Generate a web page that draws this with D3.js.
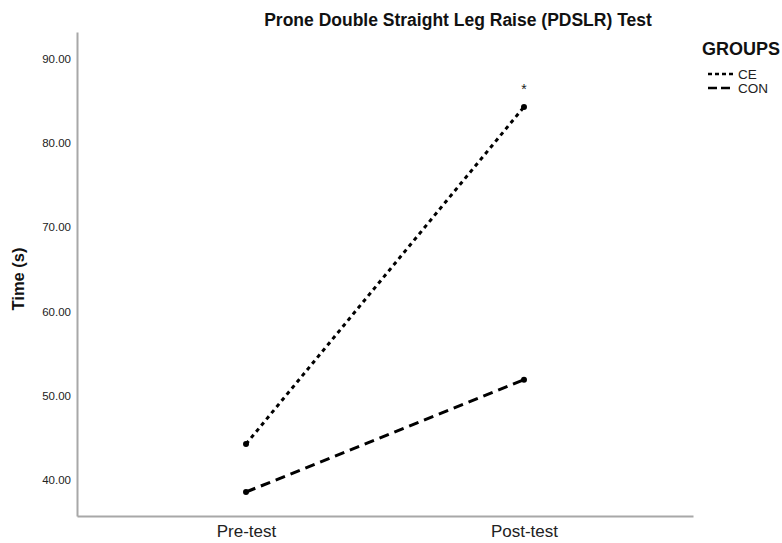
<!DOCTYPE html>
<html><head><meta charset="utf-8">
<script src="https://cdn.jsdelivr.net/npm/d3@7"></script>
<style>body{margin:0;background:#fff;} svg{display:block;font-family:"Liberation Sans",Arial,sans-serif;}</style>
</head><body>
<svg id="c" width="782" height="543"></svg>
<script>
const categories = ["Pre-test", "Post-test"];
const groups = ["CE", "CON"];
const ceValues = [44.25, 84.3];
const conValues = [38.55, 51.9];
const yTicks = [40, 50, 60, 70, 80, 90];

const FONT = "Liberation Sans, Arial, sans-serif";
const svg = d3.select("#c");
const x = d3.scalePoint().domain(categories).range([77, 693]).padding(0.608);
const y = d3.scaleLinear().domain([35.7, 93.2]).range([516, 32]);

// axes
const yAxis = d3.axisLeft(y).tickValues(yTicks).tickSize(0).tickPadding(6).tickFormat(d3.format(".2f"));
const gy = svg.append("g").attr("transform", "translate(77,0)").call(yAxis);
gy.attr("font-family", FONT);
gy.select(".domain").attr("stroke", "#a8a8a8").attr("stroke-width", 2);
gy.selectAll("text").attr("font-size", 11.5).attr("fill", "#222");

const xAxis = d3.axisBottom(x).tickSize(0).tickPadding(9);
const gx = svg.append("g").attr("transform", "translate(0,516)").call(xAxis);
gx.attr("font-family", FONT);
gx.select(".domain").attr("stroke", "#a8a8a8").attr("stroke-width", 2);
gx.selectAll("text").attr("font-size", 17).attr("fill", "#222");

// series
const series = [
  {name: "CE", values: ceValues, dash: "4,4"},
  {name: "CON", values: conValues, dash: "10,6"}
];
const line = d3.line().x((d, i) => x(categories[i])).y(d => y(d));
series.forEach(s => {
  svg.append("path").datum(s.values).attr("d", line)
    .attr("fill", "none").attr("stroke", "#000").attr("stroke-width", 3)
    .attr("stroke-dasharray", s.dash);
  svg.selectAll(null).data(s.values).enter().append("circle")
    .attr("cx", (d, i) => x(categories[i])).attr("cy", d => y(d)).attr("r", 3).attr("fill", "#000");
});

// significance marker
svg.append("text").attr("x", x("Post-test")).attr("y", y(ceValues[1]) - 13)
  .attr("text-anchor", "middle").attr("font-size", 14).attr("fill", "#222").text("*");

// title
svg.append("text").attr("x", 458).attr("y", 26).attr("text-anchor", "middle")
  .attr("font-size", 17.5).attr("font-weight", "bold").attr("fill", "#111")
  .text("Prone Double Straight Leg Raise (PDSLR) Test");

// y label
svg.append("text").attr("transform", "translate(24,279) rotate(-90)").attr("text-anchor", "middle")
  .attr("font-size", 16.5).attr("font-weight", "bold").attr("fill", "#111").text("Time (s)");

// legend
svg.append("text").attr("x", 702).attr("y", 55).attr("font-size", 18).attr("font-weight", "bold")
  .attr("fill", "#111").text("GROUPS");
series.forEach((s, i) => {
  const ly = 74 + i * 14;
  svg.append("line").attr("x1", 708).attr("x2", 734).attr("y1", ly).attr("y2", ly)
    .attr("stroke", "#000").attr("stroke-width", 2.5).attr("stroke-dasharray", i === 0 ? "4,3" : "9,4");
  svg.append("text").attr("x", 738).attr("y", ly + 5).attr("font-size", 13.5).attr("fill", "#222").text(s.name);
});
</script>
</body></html>
